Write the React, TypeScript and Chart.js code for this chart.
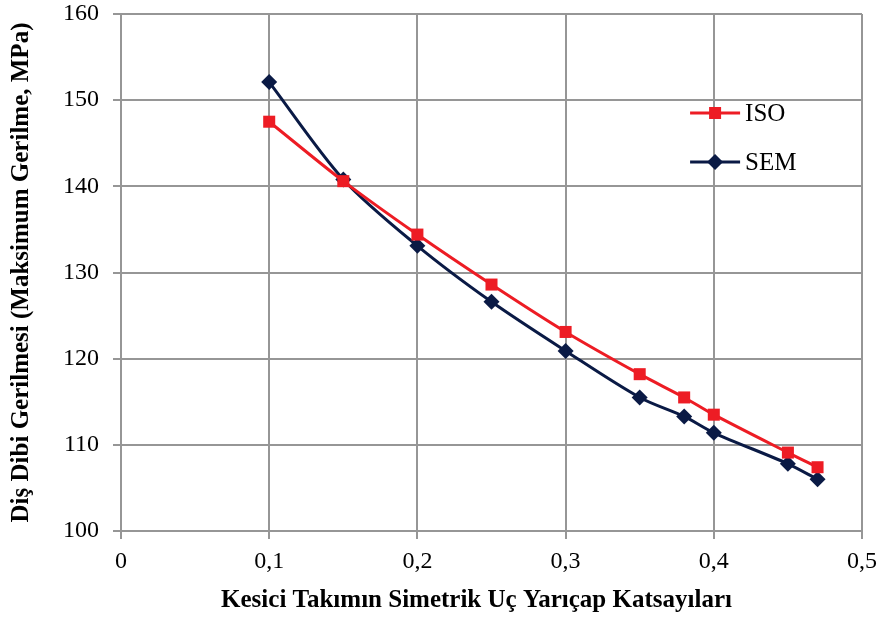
import React, { useEffect, useRef } from "react";
import { Chart, registerables } from "chart.js";

Chart.register(...registerables);

const xValues = [0.1, 0.15, 0.2, 0.25, 0.3, 0.35, 0.38, 0.4, 0.45, 0.47];
const isoValues = [147.5, 140.6, 134.4, 128.6, 123.1, 118.2, 115.5, 113.5, 109.1, 107.4];
const semValues = [152.1, 140.8, 133.1, 126.6, 120.9, 115.5, 113.3, 111.4, 107.8, 106.0];
const seriesNames = ["ISO", "SEM"];
const xTitle = "Kesici Takımın Simetrik Uç Yarıçap Katsayıları";
const yTitle = "Diş Dibi Gerilmesi (Maksimum Gerilme, MPa)";

const RED = "#ed1c24";
const NAVY = "#0a1a45";
const GRID = "#969696";
const FONT = "'Liberation Serif', 'Times New Roman', serif";

const legendPlugin = {
  id: "insideLegend",
  afterDraw(chart: any) {
    const { ctx, chartArea } = chart;
    const items = [
      { name: seriesNames[0], color: RED, shape: "rect" },
      { name: seriesNames[1], color: NAVY, shape: "diamond" },
    ];
    const x0 = chartArea.left + (chartArea.right - chartArea.left) * 0.768;
    const lineLen = 50;
    ctx.save();
    items.forEach((it, i) => {
      const y = chartArea.top + 99 + i * 49;
      ctx.strokeStyle = it.color;
      ctx.lineWidth = 3;
      ctx.beginPath();
      ctx.moveTo(x0, y);
      ctx.lineTo(x0 + lineLen, y);
      ctx.stroke();
      const cx = x0 + lineLen / 2;
      ctx.fillStyle = it.color;
      ctx.beginPath();
      if (it.shape === "rect") {
        ctx.rect(cx - 6, y - 6, 12, 12);
      } else {
        ctx.moveTo(cx - 8, y);
        ctx.lineTo(cx, y - 8);
        ctx.lineTo(cx + 8, y);
        ctx.lineTo(cx, y + 8);
        ctx.closePath();
      }
      ctx.fill();
      ctx.fillStyle = "#000";
      ctx.font = `25px ${FONT}`;
      ctx.textBaseline = "middle";
      ctx.textAlign = "left";
      ctx.fillText(it.name, x0 + lineLen + 5, y + 1);
    });
    ctx.restore();
  },
};

const titlePlugin = {
  id: "axisTitles",
  afterDraw(chart: any) {
    const { ctx, chartArea } = chart;
    ctx.save();
    ctx.fillStyle = "#000";
    ctx.font = `bold 25px ${FONT}`;
    ctx.textAlign = "center";
    ctx.textBaseline = "alphabetic";
    ctx.fillText(xTitle, (chartArea.left + chartArea.right) / 2 - 15, chart.height - 11);
    ctx.translate(22, (chartArea.top + chartArea.bottom) / 2);
    ctx.rotate(-Math.PI / 2);
    ctx.textBaseline = "middle";
    ctx.fillText(yTitle, 0, 0);
    ctx.restore();
  },
};

export default function App() {
  const ref = useRef<HTMLCanvasElement | null>(null);
  useEffect(() => {
    document.body.style.margin = "0";
    const canvas = ref.current;
    if (!canvas) return;
    const chart = new Chart(canvas, {
      type: "line",
      data: {
        datasets: [
          {
            label: seriesNames[0],
            data: xValues.map((x, i) => ({ x, y: isoValues[i] })),
            borderColor: RED,
            backgroundColor: RED,
            borderWidth: 3,
            pointStyle: "rect",
            pointRadius: 8.5,
            pointBorderWidth: 0,
            tension: 0.3,
          },
          {
            label: seriesNames[1],
            data: xValues.map((x, i) => ({ x, y: semValues[i] })),
            borderColor: NAVY,
            backgroundColor: NAVY,
            borderWidth: 3,
            pointStyle: "rectRot",
            pointRadius: 8,
            pointBorderWidth: 0,
            tension: 0.3,
          },
        ],
      },
      options: {
        animation: false,
        responsive: false,
        maintainAspectRatio: false,
        layout: { padding: { top: 14, right: 18, left: 0, bottom: 0 } },
        plugins: { legend: { display: false }, tooltip: { enabled: false } },
        scales: {
          x: {
            type: "linear",
            min: 0,
            max: 0.5,
            afterFit: (s: any) => {
              s.height = 87;
              s.paddingLeft = 0;
              s.paddingRight = 0;
            },
            ticks: {
              stepSize: 0.1,
              color: "#000",
              font: { family: FONT, size: 24 },
              padding: 8,
              callback: (v: any) => (v === 0 ? "0" : Number(v).toFixed(1).replace(".", ",")),
            },
            grid: { color: GRID, lineWidth: 2, tickLength: 8, tickColor: GRID },
            border: { color: GRID, width: 2 },
          },
          y: {
            min: 100,
            max: 160,
            afterFit: (s: any) => {
              s.width = 121;
              s.paddingTop = 0;
              s.paddingBottom = 0;
            },
            ticks: {
              stepSize: 10,
              color: "#000",
              font: { family: FONT, size: 24 },
              padding: 14,
            },
            grid: { color: GRID, lineWidth: 2, tickLength: 8, tickColor: GRID },
            border: { color: GRID, width: 2 },
          },
        },
      },
      plugins: [legendPlugin, titlePlugin],
    });
    return () => chart.destroy();
  }, []);
  return (
    <div style={{ width: 880, height: 618, background: "#fff" }}>
      <canvas ref={ref} width={880} height={618} style={{ display: "block" }} />
    </div>
  );
}
